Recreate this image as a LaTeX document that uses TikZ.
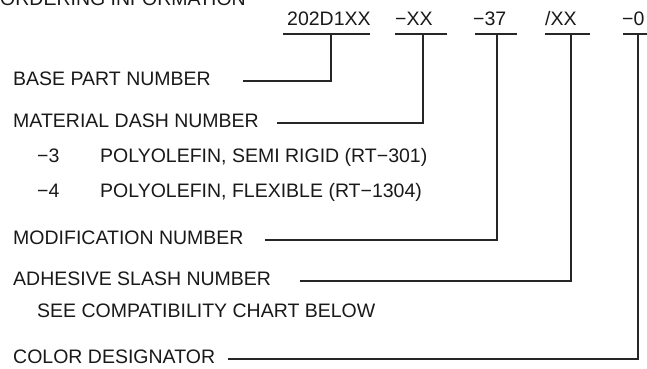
\documentclass[tikz,border=0pt]{standalone}
\usepackage{fontspec}
\setmainfont{Liberation Sans}
\begin{document}
\begin{tikzpicture}[x=1pt,y=1pt,
  lbl/.style={anchor=base west,inner sep=0pt,text=black!90,font=\fontsize{19.5}{23}\selectfont},
  wire/.style={line width=1.5pt,draw=black!85}]
  \useasboundingbox (0,0) rectangle (647,-368);
  \node[lbl] (title) at (0,-5) {ORDERING INFORMATION};
  % part number fields, their underlines and tap points
  \foreach \n/\x/\lab/\ua/\ub/\tx in {c1/287/202D1XX/283/370/331, c2/395/{−XX}/395/447/423,
      c3/473/{−37}/475/517/497, c4/545/{/XX}/545/590/571, c5/622/{−0}/623/647/638}{
    \node[lbl] (\n) at (\x,-25) {\lab};
    \draw[wire] (\ua,-34) -- (\ub,-34);
    \coordinate (t\n) at (\tx,-34);
  }
  % descriptions
  \node[lbl] (base) at (13,-85) {BASE PART NUMBER};
  \node[lbl] (matl) at (13,-127) {MATERIAL DASH NUMBER};
  \node[lbl] (m3) at (37,-162) {−3};
  \node[lbl] (m3txt) at (100,-162) {POLYOLEFIN, SEMI RIGID (RT−301)};
  \node[lbl] (m4) at (37,-197) {−4};
  \node[lbl] (m4txt) at (100,-197) {POLYOLEFIN, FLEXIBLE (RT−1304)};
  \node[lbl] (modif) at (13,-244) {MODIFICATION NUMBER};
  \node[lbl] (adhes) at (13,-285) {ADHESIVE SLASH NUMBER};
  \node[lbl] (chart) at (37,-317) {SEE COMPATIBILITY CHART BELOW};
  \node[lbl] (color) at (13,-363) {COLOR DESIGNATOR};
  % leader lines
  \coordinate (sbase) at (243,-81);
  \coordinate (smatl) at (277,-123);
  \coordinate (smodif) at (265,-240);
  \coordinate (sadhes) at (300,-281);
  \coordinate (scolor) at (228,-359);
  \draw[wire] (sbase) -| (tc1);
  \draw[wire] (smatl) -| (tc2);
  \draw[wire] (smodif) -| (tc3);
  \draw[wire] (sadhes) -| (tc4);
  \draw[wire] (scolor) -| (tc5);
\end{tikzpicture}
\end{document}
